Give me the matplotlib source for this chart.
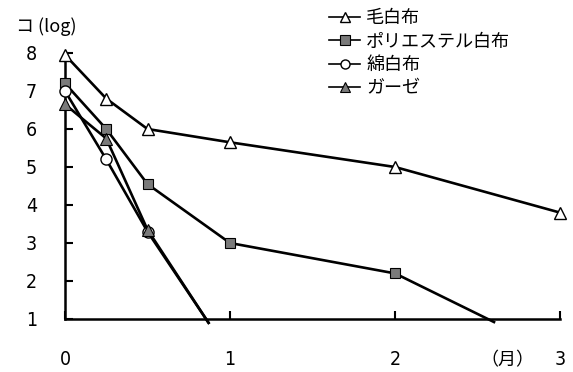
import matplotlib
matplotlib.use("Agg")
import matplotlib.pyplot as plt
from matplotlib import font_manager

jp = ['Noto Sans CJK JP', 'DejaVu Sans']
names = {f.name for f in font_manager.fontManager.ttflist}
num_font = 'Liberation Sans Narrow' if 'Liberation Sans Narrow' in names else 'DejaVu Sans'

# Data
labels = ['毛白布', 'ポリエステル白布', '綿白布', 'ガーゼ']
x_wool = [0, 0.25, 0.5, 1, 2, 3]
y_wool = [7.95, 6.8, 6.0, 5.65, 5.0, 3.8]
x_poly = [0, 0.25, 0.5, 1, 2, 2.6]
y_poly = [7.2, 6.0, 4.55, 3.0, 2.2, 0.92]
x_cotton = [0, 0.25, 0.5, 0.87]
y_cotton = [7.0, 5.2, 3.3, 0.9]
x_gauze = [0, 0.25, 0.5, 0.87]
y_gauze = [6.65, 5.75, 3.35, 0.9]
xticks = [0, 1, 2, 3]
yticks = [1, 2, 3, 4, 5, 6, 7, 8]

fig = plt.figure(figsize=(5.73, 3.72), dpi=100)
ax = fig.add_axes([65/573, 1-319/372, (560-65)/573, (319-53)/372])

lw = 1.9
ms = 9
ax.plot(x_wool, y_wool, color='black', lw=lw, marker='^', ms=ms, mfc='white', mec='black',
        mew=1.0, clip_on=False, label=labels[0], zorder=3)
ax.plot(x_poly, y_poly, color='black', lw=lw, marker='s', ms=7.5, mfc='#7a7a7a', mec='black',
        mew=0.8, markevery=[0, 1, 2, 3, 4], clip_on=False, label=labels[1], zorder=3)
ax.plot(x_cotton, y_cotton, color='black', lw=lw, marker='o', ms=8, mfc='white', mec='black',
        mew=1.0, markevery=[0, 1, 2], clip_on=False, label=labels[2], zorder=3)
ax.plot(x_gauze, y_gauze, color='black', lw=lw, marker='^', ms=ms, mfc='#7a7a7a', mec='black',
        mew=0.8, markevery=[0, 1, 2], clip_on=False, label=labels[3], zorder=3)

ax.set_xlim(0, 3)
ax.set_ylim(1, 8)
ax.spines['top'].set_visible(False)
ax.spines['right'].set_visible(False)
ax.spines['left'].set_linewidth(1.8)
ax.spines['bottom'].set_linewidth(1.8)
ax.set_xticks(xticks)
ax.set_yticks(yticks)
ax.tick_params(axis='both', direction='in', length=6, width=1.5, labelsize=14)
ax.tick_params(axis='x', pad=22)
ax.tick_params(axis='y', pad=20)
for t in ax.get_xticklabels() + ax.get_yticklabels():
    t.set_fontfamily(num_font)
    t.set_fontstretch('condensed')

fig.text(16/573, 1-27/372, 'コ (log)', family=jp, fontsize=13, va='center', ha='left')
fig.text(507/573, 1-360/372, '（月）', family=jp, fontsize=13, va='center', ha='center')

leg = ax.legend(loc='upper left', bbox_to_anchor=(322/573, 1-2/372),
                bbox_transform=fig.transFigure, frameon=False,
                prop={'family': jp, 'size': 13}, handlelength=1.7, handletextpad=0.35,
                labelspacing=0.3, borderaxespad=0)
for h in leg.legend_handles:
    h.set_linewidth(1.2)
    h.set_markersize(6.5)

fig.savefig('out.png', dpi=100)
